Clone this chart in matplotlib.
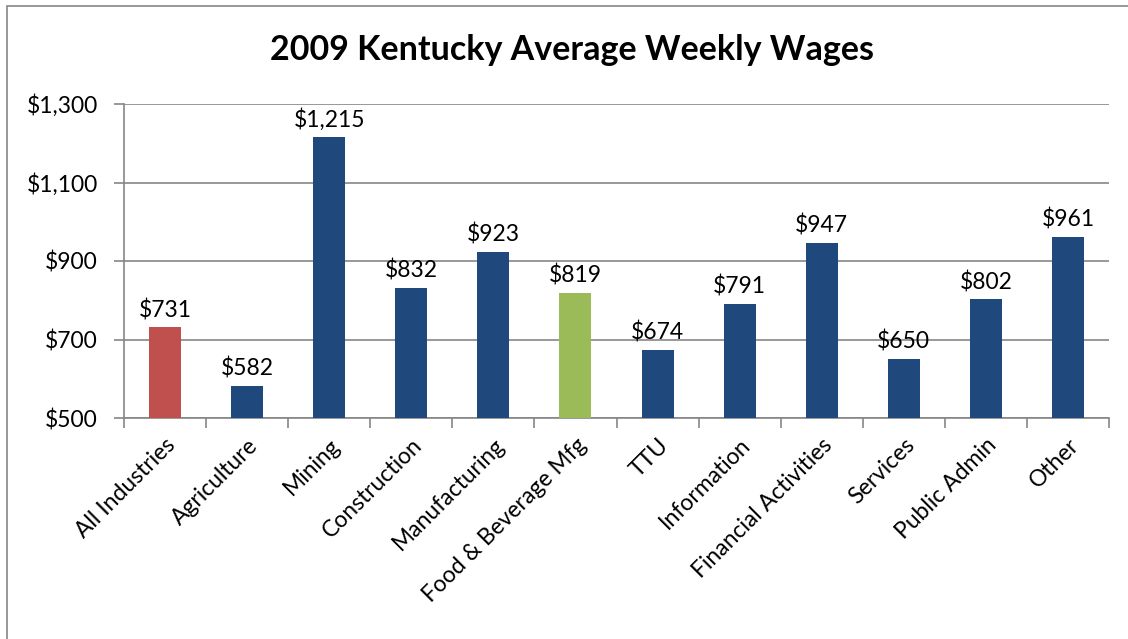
import numpy as np
import matplotlib.pyplot as plt

categories = ["All Industries", "Agriculture", "Mining", "Construction", "Manufacturing",
              "Food & Beverage Mfg", "TTU", "Information", "Financial Activities",
              "Services", "Public Admin", "Other"]
wages = [731, 582, 1215, 832, 923, 819, 674, 791, 947, 650, 802, 961]
bar_colors = ["#C0504D", "#1F497D", "#1F497D", "#1F497D", "#1F497D", "#9BBB59",
              "#1F497D", "#1F497D", "#1F497D", "#1F497D", "#1F497D", "#1F497D"]
yticks = [500, 700, 900, 1100, 1300]

plt.rcParams['font.family'] = ['Lato', 'DejaVu Sans']

fig = plt.figure(figsize=(11.28, 6.39), dpi=100)
ax = fig.add_axes([124 / 1128, 1 - 418 / 639, (1109 - 124) / 1128, (418 - 104) / 639])

# outer chart frame
fig.patches.append(plt.Rectangle((7 / 1128, -0.01), 1.02, 1 - 6 / 639 + 0.01,
                                 transform=fig.transFigure, fill=False,
                                 edgecolor="#868686", linewidth=1.2))

x = np.arange(len(categories))
ax.bar(x, wages, width=0.39, color=bar_colors, bottom=0, zorder=3)
ax.set_ylim(500, 1300)
ax.set_xlim(-0.5, len(categories) - 0.5)

for xi, v in zip(x, wages):
    ax.text(xi, v + 16, "${:,}".format(v), ha="center", va="bottom", fontsize=16.5)

ax.set_yticks(yticks)
ax.set_yticklabels(["${:,}".format(t) for t in yticks], fontsize=16.5)
ax.grid(axis="y", color="#868686", linewidth=1.2, zorder=0)

ax.set_xticks(x)
ax.set_xticklabels(categories, rotation=45, ha="right", rotation_mode="anchor", fontsize=16.5)
ax.tick_params(axis="x", length=0, pad=12)
ax.set_xticks(np.arange(-0.5, len(categories)), minor=True)
ax.tick_params(axis="x", which="minor", length=7, color="#868686", width=1.2)
ax.tick_params(axis="y", length=7, color="#868686", width=1.2, pad=12)

for s in ["top", "right"]:
    ax.spines[s].set_visible(False)
for s in ["left", "bottom"]:
    ax.spines[s].set_color("#868686")
    ax.spines[s].set_linewidth(1.2)

fig.text(572 / 1128, 1 - 50 / 639, "2009 Kentucky Average Weekly Wages",
         ha="center", va="center", fontsize=24.5, fontweight="bold")

fig.savefig("out.png", dpi=100)
